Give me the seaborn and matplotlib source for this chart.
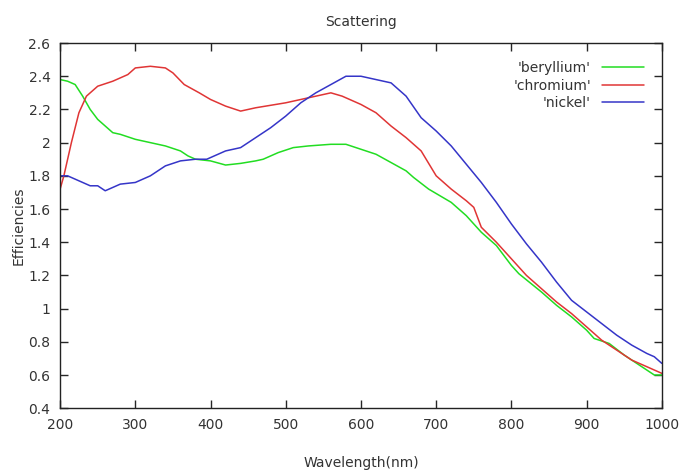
import matplotlib
matplotlib.use("Agg")
import matplotlib.pyplot as plt
import seaborn as sns
import pandas as pd

be_x = [200, 210, 220, 230, 240, 250, 260, 270, 280, 300, 320, 340, 360, 370, 380, 400, 420, 440, 460, 470, 490, 510, 530, 560, 580, 600, 620, 640, 660, 670, 690, 720, 740, 760, 780, 800, 810, 840, 860, 880, 900, 910, 930, 950, 970, 990, 1000]
be_y = [2.38, 2.37, 2.35, 2.28, 2.20, 2.14, 2.10, 2.06, 2.05, 2.02, 2.00, 1.98, 1.95, 1.92, 1.90, 1.89, 1.865, 1.875, 1.89, 1.90, 1.94, 1.97, 1.98, 1.99, 1.99, 1.96, 1.93, 1.88, 1.83, 1.79, 1.72, 1.64, 1.56, 1.46, 1.38, 1.26, 1.21, 1.10, 1.02, 0.95, 0.87, 0.82, 0.79, 0.72, 0.66, 0.60, 0.60]

cr_x = [200, 205, 215, 225, 235, 250, 270, 290, 300, 320, 340, 350, 365, 385, 400, 420, 440, 460, 500, 540, 560, 575, 600, 620, 640, 660, 680, 700, 720, 740, 750, 760, 780, 800, 820, 840, 860, 880, 900, 920, 940, 960, 980, 1000]
cr_y = [1.72, 1.80, 2.00, 2.18, 2.28, 2.34, 2.37, 2.41, 2.45, 2.46, 2.45, 2.42, 2.35, 2.30, 2.26, 2.22, 2.19, 2.21, 2.24, 2.28, 2.30, 2.28, 2.23, 2.18, 2.10, 2.03, 1.95, 1.80, 1.72, 1.65, 1.61, 1.49, 1.40, 1.30, 1.20, 1.12, 1.04, 0.97, 0.89, 0.81, 0.75, 0.69, 0.65, 0.61]

ni_x = [200, 210, 220, 240, 250, 260, 270, 280, 300, 320, 340, 360, 380, 395, 420, 440, 460, 480, 500, 520, 540, 560, 580, 600, 620, 640, 660, 680, 700, 720, 740, 760, 780, 800, 820, 840, 860, 880, 900, 920, 940, 960, 980, 990, 1000]
ni_y = [1.80, 1.80, 1.78, 1.74, 1.74, 1.71, 1.73, 1.75, 1.76, 1.80, 1.86, 1.89, 1.90, 1.90, 1.95, 1.97, 2.03, 2.09, 2.16, 2.24, 2.30, 2.35, 2.40, 2.40, 2.38, 2.36, 2.28, 2.15, 2.07, 1.98, 1.87, 1.76, 1.64, 1.51, 1.39, 1.28, 1.16, 1.05, 0.98, 0.91, 0.84, 0.78, 0.73, 0.71, 0.67]

series_names = ["'beryllium'", "'chromium'", "'nickel'"]
colors = ["#22dd22", "#e03535", "#3535c8"]

frames = []
for name, xs, ys in zip(series_names, [be_x, cr_x, ni_x], [be_y, cr_y, ni_y]):
    frames.append(pd.DataFrame({"Wavelength": xs, "Efficiency": ys, "series": name}))
df = pd.concat(frames, ignore_index=True)

sns.set_theme(style="ticks")
plt.rcParams['font.family'] = ['DejaVu Sans']

fig = plt.figure(figsize=(6.83, 4.73), dpi=100)
ax = fig.add_axes([0.088, 0.137, 0.881, 0.772])
sns.lineplot(data=df, x="Wavelength", y="Efficiency", hue="series",
             palette=colors, linewidth=1.1, ax=ax, sort=False, estimator=None)

ax.set_xlim(200, 1000)
ax.set_ylim(0.4, 2.6)
ax.set_xticks(range(200, 1001, 100))
ax.set_yticks([0.4, 0.6, 0.8, 1.0, 1.2, 1.4, 1.6, 1.8, 2.0, 2.2, 2.4, 2.6])
ax.set_yticklabels(["0.4", "0.6", "0.8", "1", "1.2", "1.4", "1.6", "1.8", "2", "2.2", "2.4", "2.6"])
ax.tick_params(direction="in", top=True, right=True, length=6, width=1,
               labelsize=10, labelcolor="#333333", pad=7)
for s in ax.spines.values():
    s.set_linewidth(1.0)
    s.set_color("#222222")

ax.set_xlabel("Wavelength(nm)", fontsize=10, color="#333333", labelpad=17)
ax.set_ylabel("Efficiencies", fontsize=10, color="#333333", labelpad=2)
ax.set_title("Scattering", fontsize=10, color="#333333", pad=12)

leg = ax.legend(loc="upper right", frameon=False, markerfirst=False, fontsize=10,
                handlelength=3.0, labelspacing=0.25, borderaxespad=0.9)
for t in leg.get_texts():
    t.set_color("#333333")

fig.savefig("out.png", dpi=100)
